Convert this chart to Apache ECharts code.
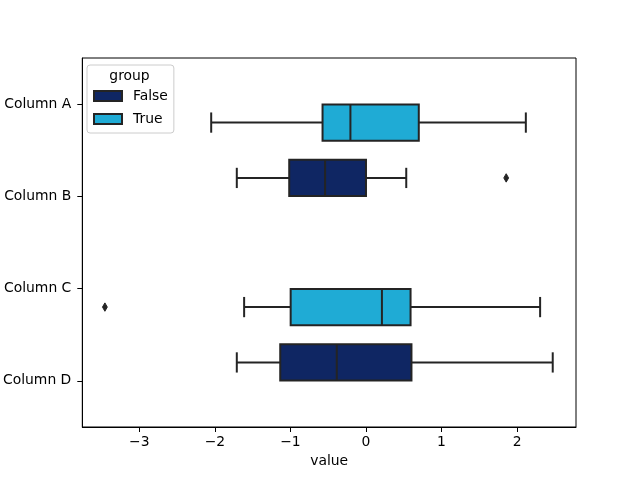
<!DOCTYPE html>
<html>
<head>
<meta charset="utf-8">
<script src="https://cdn.jsdelivr.net/npm/echarts@6/dist/echarts.min.js"></script>
<style>html,body{margin:0;padding:0;background:#fff;}#chart{width:640px;height:480px;}</style>
</head>
<body>
<div id="chart"></div>
<script>
const categories = ['Column A', 'Column B', 'Column C', 'Column D'];
const groups = ['False', 'True'];
const xTicks = [-3, -2, -1, 0, 1, 2];

const falseCategories = ['Column B', 'Column D'];
const falseWhiskerLow = [-1.71, -1.71];
const falseQ1 = [-1.016, -1.135];
const falseMedian = [-0.541, -0.387];
const falseQ3 = [0.0, 0.602];
const falseWhiskerHigh = [0.533, 2.472];

const trueCategories = ['Column A', 'Column C'];
const trueWhiskerLow = [-2.049, -1.613];
const trueQ1 = [-0.575, -0.997];
const trueMedian = [-0.206, 0.211];
const trueQ3 = [0.699, 0.590];
const trueWhiskerHigh = [2.116, 2.305];

const falseOutlierCategories = ['Column B'];
const falseOutlierValues = [1.856];
const trueOutlierCategories = ['Column C'];
const trueOutlierValues = [-3.456];

const FONT = 'DejaVu Sans';
const LINE = '#242424';
const COLORS = { False: '#0f2663', True: '#1fabd5' };

function boxData(cats, lo, q1, med, q3, hi) {
  return cats.map((c, i) => [c, lo[i], q1[i], med[i], q3[i], hi[i]]);
}
function outlierData(cats, vals) {
  return cats.map((c, i) => [c, vals[i]]);
}

function boxRenderer(sign, fill) {
  return function (params, api) {
    const cat = api.value(0);
    const band = api.size([0, 1])[1];
    const yc = api.coord([0, cat])[1] + sign * band * 0.2;
    const h = band * 0.392;
    const x = (v) => api.coord([v, cat])[0];
    const lo = x(api.value(1)), q1 = x(api.value(2)), md = x(api.value(3)),
          q3 = x(api.value(4)), hi = x(api.value(5));
    const cap = h * 0.28;
    const ls = { stroke: LINE, lineWidth: 2, fill: null };
    return {
      type: 'group',
      children: [
        { type: 'line', shape: { x1: lo, y1: yc, x2: q1, y2: yc }, style: ls },
        { type: 'line', shape: { x1: q3, y1: yc, x2: hi, y2: yc }, style: ls },
        { type: 'line', shape: { x1: lo, y1: yc - cap, x2: lo, y2: yc + cap }, style: ls },
        { type: 'line', shape: { x1: hi, y1: yc - cap, x2: hi, y2: yc + cap }, style: ls },
        { type: 'rect', shape: { x: q1, y: yc - h / 2, width: q3 - q1, height: h },
          style: { fill: fill, stroke: LINE, lineWidth: 2 } },
        { type: 'line', shape: { x1: md, y1: yc - h / 2, x2: md, y2: yc + h / 2 }, style: ls }
      ]
    };
  };
}

function outlierRenderer(sign) {
  return function (params, api) {
    const cat = api.value(0);
    const band = api.size([0, 1])[1];
    const p = api.coord([api.value(1), cat]);
    const yc = p[1] + sign * band * 0.2;
    const w = 2.4, hh = 4.2;
    return {
      type: 'polygon',
      shape: { points: [[p[0], yc - hh], [p[0] + w, yc], [p[0], yc + hh], [p[0] - w, yc]] },
      style: { fill: LINE, stroke: LINE, lineWidth: 1 }
    };
  };
}

const chart = echarts.init(document.getElementById('chart'), null, { renderer: 'canvas' });
chart.setOption({
  animation: false,
  backgroundColor: '#fff',
  textStyle: { fontFamily: FONT },
  grid: { left: 81, right: 64, top: 58, bottom: 53, show: true, borderColor: '#000', borderWidth: 1, backgroundColor: 'transparent' },
  xAxis: {
    type: 'value', min: -3.755, max: 2.78,
    name: 'value', nameLocation: 'middle', nameGap: 27,
    nameTextStyle: { fontFamily: FONT, fontSize: 13.9, color: '#000' },
    axisLine: { show: true, onZero: false, lineStyle: { color: '#000', width: 1 } },
    axisTick: { show: true, length: 5, lineStyle: { color: '#000', width: 1 }, customValues: xTicks },
    axisLabel: { fontFamily: FONT, fontSize: 13.9, color: '#000', margin: 8, customValues: xTicks,
      formatter: (v) => (v < 0 ? '\u2212' + Math.abs(v) : String(v)) },
    splitLine: { show: false }
  },
  yAxis: {
    type: 'category', data: categories, inverse: true,
    axisLine: { show: true, onZero: false, lineStyle: { color: '#000', width: 1 } },
    axisTick: { show: true, alignWithLabel: true, length: 5, lineStyle: { color: '#000', width: 1 } },
    axisLabel: { fontFamily: FONT, fontSize: 13.9, color: '#000', margin: 11 },
    splitLine: { show: false }
  },
  legend: {
    data: groups, orient: 'vertical', left: 87, top: 65,
    itemWidth: 28, itemHeight: 10, itemGap: 9, itemTextGap: 10,
    padding: [24, 6, 7, 6], icon: 'rect',
    backgroundColor: 'rgba(255,255,255,0.8)', borderColor: '#cccccc', borderWidth: 1, borderRadius: 3,
    textStyle: { fontFamily: FONT, fontSize: 13.9, color: '#000', padding: [0, 0, 0, 6] }
  },
  graphic: [{
    type: 'text', x: 129.5, y: 76, z: 100,
    style: { text: 'group', fontFamily: FONT, fontSize: 13.9, fill: '#000', align: 'center', verticalAlign: 'middle' }
  }],
  series: [
    { name: 'False', type: 'custom', renderItem: boxRenderer(-1, COLORS.False),
      itemStyle: { color: COLORS.False, borderColor: LINE, borderWidth: 1 },
      encode: { y: 0, x: [1, 2, 3, 4, 5] },
      data: boxData(falseCategories, falseWhiskerLow, falseQ1, falseMedian, falseQ3, falseWhiskerHigh) },
    { name: 'True', type: 'custom', renderItem: boxRenderer(1, COLORS.True),
      itemStyle: { color: COLORS.True, borderColor: LINE, borderWidth: 1 },
      encode: { y: 0, x: [1, 2, 3, 4, 5] },
      data: boxData(trueCategories, trueWhiskerLow, trueQ1, trueMedian, trueQ3, trueWhiskerHigh) },
    { name: 'False outliers', type: 'custom', renderItem: outlierRenderer(-1),
      encode: { y: 0, x: 1 },
      data: outlierData(falseOutlierCategories, falseOutlierValues) },
    { name: 'True outliers', type: 'custom', renderItem: outlierRenderer(1),
      encode: { y: 0, x: 1 },
      data: outlierData(trueOutlierCategories, trueOutlierValues) }
  ]
});
</script>
</body>
</html>
